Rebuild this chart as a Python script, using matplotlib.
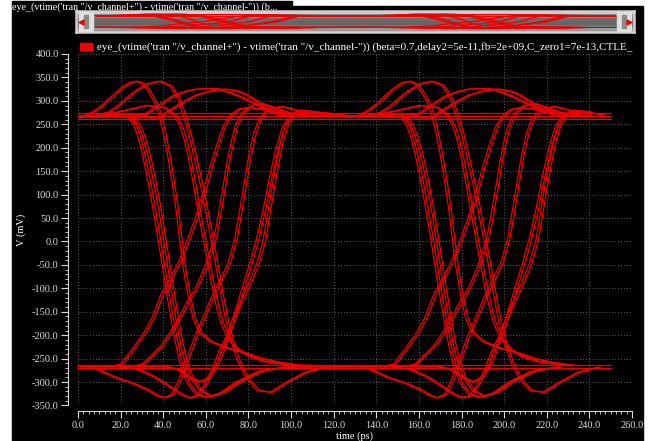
import matplotlib
matplotlib.use('Agg')
import matplotlib.pyplot as plt
import numpy as np
from matplotlib.patches import Rectangle
from matplotlib.ticker import MultipleLocator, FormatStrFormatter

plt.rcParams['font.family'] = ['Liberation Serif', 'DejaVu Serif']

# one unit interval of the eye, (time ps, V mV)
fall_flat = [(0, 266), (22, 266), (26, 262), (28, 250), (30, 228), (32, 198), (34, 160), (36, 115),
             (38, 65), (40, 8), (42, -50), (44, -108), (46, -165), (48, -215), (50, -255), (53, -292),
             (57, -318), (62, -330), (68, -322), (76, -298), (86, -276), (98, -268), (128, -266)]
fall_early = [(0, 268), (18, 272), (23, 268), (26, 250), (28, 225), (30, 190), (32, 148), (34, 100),
              (36, 48), (38, -8), (40, -65), (42, -122), (44, -175), (46, -222), (48, -262),
              (51, -300), (55, -325), (60, -333), (66, -325), (74, -300), (84, -278), (96, -268), (128, -266)]
fall_hump_a = [(0, 266), (4, 270), (8, 280), (12, 294), (16, 311), (20, 327), (24, 339), (27, 342),
               (30, 337), (33, 320), (36, 296), (38, 270), (40, 232), (42, 185), (44, 130), (46, 68),
               (47.5, 10), (49.5, -60), (52, -125), (54, -165), (57, -195), (62, -214), (70, -228),
               (78, -238), (86, -250), (94, -258), (105, -265), (128, -266)]
fall_hump_b = [(0, 266), (8, 268), (14, 276), (18, 288), (22, 304), (27, 322), (32, 336), (38, 342),
               (43, 332), (47, 302), (50, 260), (52, 228), (54, 190), (56, 150), (58, 110), (60, 62),
               (62.5, 2), (65, -60), (67, -112), (69, -160), (72, -215), (75, -256), (79, -292),
               (84, -318), (90, -322), (97, -302), (106, -280), (116, -268), (128, -266)]
fall_bump = [(0, 266), (12, 270), (22, 280), (32, 290), (40, 286), (45, 270), (48, 245), (50, 215),
             (52, 175), (54, 125), (56, 72), (58.7, 5), (61, -50), (63, -98), (65, -140), (67, -173),
             (70, -205), (74, -228), (80, -246), (88, -257), (100, -264), (128, -266)]
rise_slow = [(0, -266), (16, -266), (20, -262), (25, -232), (31, -194), (35, -160), (39, -112),
             (43, -80), (47, -45), (51, 0), (55, 50), (59, 110), (62, 160), (65, 205), (68, 245),
             (71, 268), (75, 282), (80, 286), (88, 280), (100, 270), (128, 266)]
rise_knee = [(0, -266), (26, -266), (30, -262), (35, -240), (39, -222), (43, -195), (47, -165),
             (51, -130), (55, -101), (59, -59), (62, -20), (64, 12), (66, 60), (68, 115), (70, 170),
             (72, 215), (74, 250), (77, 275), (81, 290), (86, 294), (92, 285), (100, 272), (110, 266),
             (128, 266)]
rise_dip_a = [(0, -266), (6, -268), (12, -280), (18, -292), (25, -302), (32, -316), (37, -329),
              (40, -334), (44, -326), (47, -298), (51, -250), (55, -200), (59, -158), (63, -115),
              (67, -78), (70.5, -45), (73.5, 5), (76, 70), (78, 125), (80, 180), (82.5, 232), (85, 262),
              (89, 282), (95, 288), (102, 280), (112, 270), (128, 266)]
rise_dip_b = [(0, -266), (20, -267), (28, -274), (35, -288), (42, -308), (48, -326), (52, -334),
              (56, -328), (60, -300), (63, -272), (66, -235), (70, -198), (74, -150), (78, -110),
              (81, -80), (84, -45), (87, 5), (89, 60), (91, 115), (93, 165), (95, 210), (97.5, 248),
              (100, 266), (104, 275), (110, 276), (118, 270), (128, 266)]
rise_late = [(0, -266), (40, -266), (46, -272), (52, -290), (57, -300), (61, -290), (65, -262),
             (69, -215), (73, -160), (77, -100), (81, -40), (84, 10), (87, 70), (90, 140), (93, 200),
             (96, 245), (99, 268), (104, 280), (112, 276), (128, 268)]
hump_wide = [(0, 266), (31, 271), (38, 292), (44, 310), (50, 320), (55, 325), (62, 326), (66, 325),
             (75, 310), (84.5, 289), (90.7, 275), (97, 268), (128, 266)]
hump_late = [(0, 266), (37.5, 264), (44, 284), (50, 300), (55, 312), (59.4, 318), (64, 323), (68.8, 325),
             (74, 321), (78.2, 314), (83, 300), (87.6, 286), (97, 275), (110, 268), (128, 266)]

traces = [fall_flat, fall_early, fall_hump_a, fall_hump_b, fall_bump,
          rise_slow, rise_knee, rise_dip_a, rise_dip_b, rise_late, hump_wide, hump_late]

high_levels = [262, 267, 274]
low_levels = [-264, -269]
eye_offsets = [0, 128]     # the pattern repeats after ~128 ps
dup_shift = [0, 1.2]       # every trace shows up as a close pair
t_end = 250

legend_text = ("eye_(vtime('tran \"/v_channel+\") - vtime('tran \"/v_channel-\")) "
               "(beta=0.7,delay2=5e-11,fb=2e+09,C_zero1=7e-13,CTLE_")
title_text = "eye_(vtime('tran \"/v_channel+\") - vtime('tran \"/v_channel-\")) (b..."

red = '#f00000'
fg = '#d8d8d8'


def draw_eye(ax, lw):
    for lev in high_levels + low_levels:
        ax.plot([0, t_end], [lev, lev], color=red, lw=lw)
    for tr in traces:
        t = np.array([p[0] for p in tr], dtype=float)
        v = np.array([p[1] for p in tr], dtype=float)
        for off in eye_offsets:
            for d in dup_shift:
                tt = t + off + d
                keep = tt <= t_end
                ax.plot(tt[keep], v[keep], color=red, lw=lw)


fig = plt.figure(figsize=(6.5, 4.41), dpi=100)
fig.patch.set_facecolor('white')

# pixel overlay for background and decorations
bg = fig.add_axes([0, 0, 1, 1], zorder=0)
bg.set_xlim(0, 650)
bg.set_ylim(441, 0)
bg.axis('off')
bg.add_patch(Rectangle((12, 6), 631, 435, color='black'))
bg.add_patch(Rectangle((12, 1), 280, 6, color='black'))
bg.text(12, 7.5, title_text, color='white', fontsize=7.2, va='center', ha='left')

# main plot
ax = fig.add_axes([0.12, 0.0805, 0.8523, 0.7971], zorder=1)
ax.set_facecolor('black')
draw_eye(ax, 0.9)
ax.set_xlim(0, 260)
ax.set_ylim(-350, 400)
ax.xaxis.set_major_locator(MultipleLocator(20))
ax.xaxis.set_minor_locator(MultipleLocator(2.5))
ax.yaxis.set_major_locator(MultipleLocator(50))
ax.yaxis.set_minor_locator(MultipleLocator(10))
ax.xaxis.set_major_formatter(FormatStrFormatter('%.1f'))
ax.yaxis.set_major_formatter(FormatStrFormatter('%.1f'))
ax.grid(True, which='major', color='#5a5a5a', ls=(0, (1, 2)), lw=0.7)
for s in ['top', 'right']:
    ax.spines[s].set_visible(False)
ax.spines['left'].set_position(('outward', 7))
ax.spines['bottom'].set_position(('outward', 4.3))
ax.spines['left'].set_color(fg)
ax.spines['bottom'].set_color(fg)
ax.tick_params(which='both', colors=fg, labelsize=7.5, direction='out')
ax.tick_params(which='major', length=5, width=0.8, pad=2)
ax.tick_params(which='minor', length=2.5, width=0.6)
ax.set_xlabel('time (ps)', color='white', fontsize=7.5, labelpad=1)
ax.set_ylabel('V (mV)', color='white', fontsize=7.5, labelpad=4)

# legend line above the plot
ax.add_patch(Rectangle((0.004, 1.012), 0.022, 0.018, transform=ax.transAxes,
                       color=red, clip_on=False))
ax.text(0.034, 1.021, legend_text, transform=ax.transAxes, color='white',
        fontsize=8.0, va='center', ha='left')

# scroll bar with a small copy of the eye
sb = fig.add_axes([76 / 650, (441 - 32) / 441, 558 / 650, 21 / 441], zorder=2)
sb.imshow(np.array([[0.80], [0.55], [0.42], [0.40], [0.45], [0.60]]), cmap='gray', vmin=0, vmax=1,
          aspect='auto', extent=(-9, 256, -480, 480), zorder=0)
for s in sb.spines.values():
    s.set_color('#d0d0d0')
    s.set_linewidth(1.8)
sb.set_xticks([])
sb.set_yticks([])
draw_eye(sb, 0.6)
sb.set_xlim(-9, 256)
sb.set_ylim(-480, 480)

deco = fig.add_axes([0, 0, 1, 1], zorder=3)
deco.set_xlim(0, 650)
deco.set_ylim(441, 0)
deco.axis('off')
deco.patch.set_alpha(0)
for x0 in [79, 617]:
    deco.add_patch(Rectangle((x0, 12), 14, 19, color='#e0e0e0'))
    deco.add_patch(Rectangle((x0 + 5, 15), 4, 13, color='#8a8a8a'))
deco.plot([81], [21.5], marker='<', color=red, ms=3.5)
deco.plot([629], [21.5], marker='>', color=red, ms=3.5)

plt.savefig('out.png', dpi=100, facecolor=fig.get_facecolor())
